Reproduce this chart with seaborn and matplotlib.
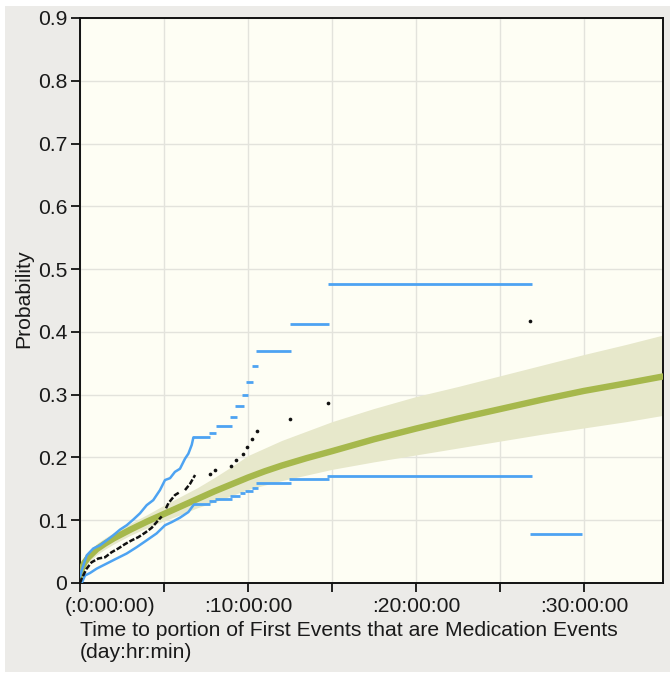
import numpy as np
import pandas as pd
import matplotlib
matplotlib.use("Agg")
import matplotlib.pyplot as plt
import matplotlib.transforms as mtrans
from matplotlib.patches import Rectangle
import seaborn as sns

# ---------------- data (days, probability) ----------------
# fitted distribution curve and its confidence band
fit_t = [0, 0.1, 0.25, 0.5, 1, 1.5, 2, 3, 4, 5, 6, 7, 8, 9, 10, 11, 12, 13.5, 15, 17.5, 20,
         22.5, 25, 27.5, 30, 32.5, 34.7]
fit_p = [0.008, 0.022, 0.032, 0.041, 0.054, 0.063, 0.071, 0.085, 0.098, 0.11, 0.122,
         0.134, 0.146, 0.157, 0.168, 0.178, 0.187, 0.199, 0.21, 0.229, 0.246,
         0.262, 0.277, 0.292, 0.306, 0.318, 0.329]
band_lo = [0.002, 0.012, 0.022, 0.033, 0.045, 0.054, 0.062, 0.076, 0.088, 0.099, 0.109,
           0.12, 0.129, 0.139, 0.149, 0.156, 0.163, 0.172, 0.181, 0.193, 0.204,
           0.215, 0.226, 0.237, 0.247, 0.257, 0.267]
band_hi = [0.018, 0.032, 0.042, 0.05, 0.063, 0.072, 0.08, 0.095, 0.109, 0.124, 0.138,
           0.152, 0.168, 0.185, 0.203, 0.215, 0.227, 0.242, 0.257, 0.278, 0.297,
           0.313, 0.33, 0.347, 0.364, 0.38, 0.395]

# nonparametric estimate: dense part (NaN = gap) and isolated points
dense_t = [0.0, 0.1, 0.4, 0.69, 1.09, 1.49, 1.88, 2.28, 2.68, 3.08, 3.47, 3.87, 4.27, 4.66, 4.86,
           np.nan, 5.12, 5.26, 5.65, 5.95, np.nan, 6.25, 6.55, 6.85]
dense_p = [0.0, 0.007, 0.023, 0.033, 0.039, 0.041, 0.049, 0.055, 0.062, 0.068, 0.073, 0.08, 0.088,
           0.1, 0.106, np.nan, 0.119, 0.127, 0.14, 0.145, np.nan, 0.148, 0.158, 0.172]
point_t = [7.74, 8.04, 8.99, 9.29, 9.72, 9.92, 10.26, 10.55, 12.5, 14.78, 26.8]
point_p = [0.173, 0.18, 0.186, 0.196, 0.205, 0.216, 0.229, 0.2425, 0.2606, 0.286, 0.418]

# confidence limits of the estimate: dense part
upper_t = [0.0, 0.1, 0.4, 0.79, 1.19, 1.59, 1.98, 2.38, 2.78, 3.17, 3.57, 3.97, 4.36, 4.76,
           5.06, 5.36, 5.65, 5.95, 6.25, 6.45, 6.65, 6.75]
upper_p = [0.01, 0.02, 0.044, 0.055, 0.06, 0.068, 0.076, 0.085, 0.092, 0.101, 0.111, 0.124,
           0.132, 0.148, 0.164, 0.167, 0.177, 0.182, 0.198, 0.206, 0.22, 0.232]
lower_t = [0.0, 0.1, 0.3, 0.6, 1.0, 1.59, 2.18, 2.78, 3.37, 3.97, 4.56, 5.06, 5.46, 5.95,
           6.45, 6.75]
lower_p = [0.0, 0.0, 0.012, 0.016, 0.023, 0.031, 0.039, 0.047, 0.057, 0.068, 0.079, 0.092,
           0.097, 0.104, 0.113, 0.124]
# confidence limits: step segments (start, end, value)
up_step_start = [6.75, 7.70, 8.10, 8.95, 9.25, 9.65, 9.86, 10.22, 10.50, 12.48, 14.74]
up_step_end   = [7.74, 8.10, 9.03, 9.33, 9.74, 9.98, 10.30, 10.60, 12.56, 14.84, 26.90]
up_step_val   = [0.232, 0.239, 0.25, 0.265, 0.282, 0.30, 0.3206, 0.3456, 0.3695, 0.4126, 0.476]
lo_step_start = [6.75, 7.70, 8.04, 8.95, 9.52, 9.80, 10.26, 10.50, 12.46, 14.72, 26.80]
lo_step_end   = [7.74, 8.10, 9.03, 9.55, 9.85, 10.30, 10.60, 12.56, 14.84, 26.90, 29.90]
lo_step_val   = [0.126, 0.130, 0.134, 0.138, 0.1426, 0.1467, 0.152, 0.159, 0.165, 0.170, 0.0777]

xticks = [0, 5, 10, 15, 20, 25, 30]
xtick_labels = ["(:0:00:00)", "", ":10:00:00", "", ":20:00:00", "", ":30:00:00"]
yticks = [0, 0.1, 0.2, 0.3, 0.4, 0.5, 0.6, 0.7, 0.8, 0.9]
ytick_labels = ["0", "0.1", "0.2", "0.3", "0.4", "0.5", "0.6", "0.7", "0.8", "0.9"]
x_title = "Time to portion of First Events that are Medication Events\n(day:hr:min)"
y_title = "Probability"

# ---------------- style ----------------
sns.set_theme(style="ticks")
plt.rcParams["font.family"] = ["Liberation Sans", "DejaVu Sans"]

BLUE = "#4da3f2"
GREEN = "#a6b84c"
BAND = "#e7e8cb"
FIG_BG = "#ecebe8"
AX_BG = "#fefef4"
FS = 15.2

fig = plt.figure(figsize=(6.7, 6.75), dpi=100, facecolor="white")
fig.patches.append(Rectangle((5 / 670, 3 / 675), 1, 1 - 9 / 675, transform=fig.transFigure,
                             facecolor=FIG_BG, edgecolor="none", zorder=-10))
ax = fig.add_axes([80 / 670, 1 - 583 / 675, 583 / 670, 565 / 675])
ax.set_facecolor(AX_BG)

fit_df = pd.DataFrame({"t": fit_t, "p": fit_p, "lo": band_lo, "hi": band_hi})
ax.fill_between(fit_df["t"], fit_df["lo"], fit_df["hi"], color=BAND, lw=0, zorder=2)
sns.lineplot(data=fit_df, x="t", y="p", ax=ax, color=GREEN, lw=4.6, zorder=3,
             estimator=None, sort=False)

up_df = pd.DataFrame({"t": upper_t, "p": upper_p})
lo_df = pd.DataFrame({"t": lower_t, "p": lower_p})
sns.lineplot(data=up_df, x="t", y="p", ax=ax, color=BLUE, lw=1.8, zorder=4,
             estimator=None, sort=False)
sns.lineplot(data=lo_df, x="t", y="p", ax=ax, color=BLUE, lw=1.8, zorder=4,
             estimator=None, sort=False)
ax.hlines(up_step_val, up_step_start, up_step_end, color=BLUE, lw=2.0, zorder=4)
ax.hlines(lo_step_val, lo_step_start, lo_step_end, color=BLUE, lw=2.0, zorder=4)

ax.plot(dense_t, dense_p, color="#111111", lw=1.8, ls=(0, (2.2, 0.8)), zorder=5)
pt_df = pd.DataFrame({"t": point_t, "p": point_p})
sns.scatterplot(data=pt_df, x="t", y="p", ax=ax, color="#111111", s=7, linewidth=0, zorder=6)

ax.set_xlim(0, 34.7)
ax.set_ylim(0, 0.9)
ax.set_xticks(xticks)
ax.set_xticklabels(xtick_labels)
ax.set_yticks(yticks)
ax.set_yticklabels(ytick_labels)
ax.grid(True, color="#e3e3dc", lw=1.0, zorder=0)
ax.set_axisbelow(True)
ax.tick_params(axis="both", length=6.5, width=1.2, color="black", labelsize=FS,
               labelcolor="#1a1a1a")
ax.tick_params(axis="y", pad=2.5)
ax.tick_params(axis="x", pad=3.5)
for s in ax.spines.values():
    s.set_visible(True)
    s.set_color("#111111")
    s.set_linewidth(1.4)
ax.set_xlabel("")
ax.set_ylabel("")

first = ax.get_xticklabels()[0]
first.set_ha("left")
first.set_transform(first.get_transform() +
                    mtrans.ScaledTranslation(-15 / 100, 0, fig.dpi_scale_trans))

fig.text(80 / 670, 1 - 621 / 675, x_title, ha="left", va="top", fontsize=FS,
         color="#1a1a1a", linespacing=1.2)
fig.text(24 / 670, 1 - 299 / 675, y_title, ha="center", va="center", rotation=90,
         fontsize=FS, color="#1a1a1a")

fig.savefig("out.png", dpi=100, facecolor=fig.get_facecolor())
